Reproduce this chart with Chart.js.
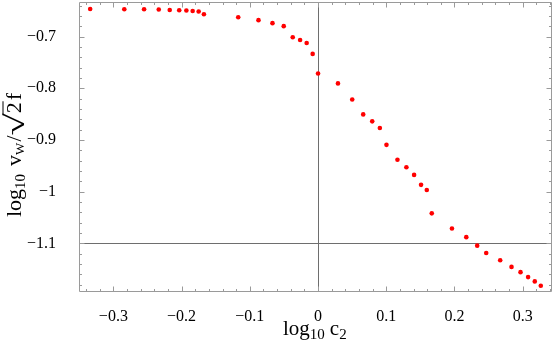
<!DOCTYPE html>
<html>
<head>
<meta charset="utf-8">
<script src="https://cdn.jsdelivr.net/npm/chart.js@4/dist/chart.umd.min.js"></script>
<style>
html,body{margin:0;padding:0;background:#fff;}
canvas{display:block;}
</style>
</head>
<body>
<canvas id="c" width="554" height="342"></canvas>
<script>
const xValues = [-0.334,-0.284,-0.255,-0.2335,-0.2174,-0.2035,-0.193,-0.1838,-0.175,-0.1673,-0.117,-0.0873,-0.0668,-0.0503,-0.0371,-0.0263,-0.0167,-0.0079,0.0,0.0292,0.0501,0.0662,0.0794,0.0906,0.1003,0.1164,0.1295,0.1408,0.151,0.1594,0.1667,0.1963,0.2173,0.2333,0.2465,0.267,0.2836,0.2968,0.3079,0.3177,0.3265];
const yValues = [-0.6467,-0.6472,-0.6472,-0.6478,-0.6486,-0.6492,-0.6497,-0.6505,-0.6517,-0.6568,-0.6626,-0.6683,-0.6741,-0.6799,-0.7015,-0.7067,-0.7125,-0.7336,-0.7714,-0.7906,-0.8218,-0.8506,-0.864,-0.8769,-0.9095,-0.9383,-0.9529,-0.9676,-0.9868,-0.9968,-1.0419,-1.0712,-1.0879,-1.1044,-1.1186,-1.1326,-1.1455,-1.1556,-1.1652,-1.1735,-1.1819];
const xTicks = [-0.3,-0.2,-0.1,0,0.1,0.2,0.3];
const yTicks = [-0.7,-0.8,-0.9,-1,-1.1];
const xMinorTicks = [-0.34,-0.32,-0.28,-0.26,-0.24,-0.22,-0.18,-0.16,-0.14,-0.12,-0.08,-0.06,-0.04,-0.02,0.02,0.04,0.06,0.08,0.12,0.14,0.16,0.18,0.22,0.24,0.26,0.28,0.32,0.34];
const yMinorTicks = [-0.64,-0.66,-0.68,-0.72,-0.74,-0.76,-0.78,-0.82,-0.84,-0.86,-0.88,-0.92,-0.94,-0.96,-0.98,-1.02,-1.04,-1.06,-1.08,-1.12,-1.14,-1.16,-1.18];
const xRange = [-0.3504, 0.3425];
const yRange = [-1.194, -0.6338];

const fmt = v => (v < 0 ? '\u2212' : '') + String(Math.abs(v));
const SERIF = '"Liberation Serif","DejaVu Serif",serif';

function drawRuns(ctx, runs, x, y) {
  let cx = x;
  for (const r of runs) {
    ctx.font = r.size + 'px ' + SERIF;
    const sx = r.sx || 1;
    const w = ctx.measureText(r.t).width * sx;
    ctx.save();
    ctx.translate(cx, y + (r.dy || 0));
    ctx.scale(sx, 1);
    ctx.fillText(r.t, 0, 0);
    ctx.restore();
    if (r.over) {
      ctx.save();
      ctx.lineWidth = 1;
      ctx.beginPath();
      ctx.moveTo(cx - 2, y + r.over);
      ctx.lineTo(cx + w + 1, y + r.over);
      ctx.stroke();
      ctx.restore();
    }
    cx += w + (r.sp || 0);
  }
}

const framePlugin = {
  id: 'frame',
  beforeDatasetsDraw(chart) {
    const ctx = chart.ctx, a = chart.chartArea;
    const xs = chart.scales.x, ys = chart.scales.y;
    ctx.save();
    ctx.strokeStyle = '#6e6e6e';
    ctx.lineWidth = 1;
    const x0 = Math.round(xs.getPixelForValue(0)) + 0.5;
    const y0 = Math.round(ys.getPixelForValue(-1.1)) + 0.5;
    ctx.beginPath();
    ctx.moveTo(x0, a.top); ctx.lineTo(x0, a.bottom);
    ctx.moveTo(a.left, y0); ctx.lineTo(a.right, y0);
    ctx.stroke();
    ctx.strokeStyle = '#9a9a9a';
    const L = Math.round(a.left) + 0.5, R = Math.round(a.right) - 0.5, T = Math.round(a.top) + 0.5, B = Math.round(a.bottom) - 0.5;
    ctx.beginPath();
    ctx.moveTo(L, T); ctx.lineTo(R, T); ctx.lineTo(R, B); ctx.lineTo(L, B); ctx.closePath();
    const xt = (v, len) => {
      const px = Math.round(xs.getPixelForValue(v)) + 0.5;
      ctx.moveTo(px, B); ctx.lineTo(px, B - len);
      ctx.moveTo(px, T); ctx.lineTo(px, T + len);
    };
    const yt = (v, len) => {
      const py = Math.round(ys.getPixelForValue(v)) + 0.5;
      ctx.moveTo(L, py); ctx.lineTo(L + len, py);
      ctx.moveTo(R, py); ctx.lineTo(R - len, py);
    };
    xTicks.forEach(v => xt(v, 5));
    xMinorTicks.forEach(v => xt(v, 2.5));
    yTicks.forEach(v => yt(v, 5));
    yMinorTicks.forEach(v => yt(v, 2.5));
    ctx.stroke();
    ctx.restore();
  },
  afterDraw(chart) {
    const ctx = chart.ctx;
    ctx.save();
    ctx.fillStyle = '#000';
    ctx.strokeStyle = '#000';
    ctx.textBaseline = 'alphabetic';
    ctx.textAlign = 'left';
    drawRuns(ctx, [
      {t: 'log', size: 21},
      {t: '10', size: 15, dy: 4, sp: 5},
      {t: 'c', size: 21},
      {t: '2', size: 15, dy: 4}
    ], 283, 335);
    ctx.translate(21, 217);
    ctx.rotate(-Math.PI / 2);
    drawRuns(ctx, [
      {t: 'log', size: 22},
      {t: '10', size: 15, dy: 4, sp: 8},
      {t: 'v', size: 22},
      {t: 'W', size: 13, dy: 3, sp: 1},
      {t: '/', size: 22, sp: 0},
      {t: '\u221A', size: 27, dy: 3, sx: 1.5},
      {t: '2', size: 22, over: -18, sp: 2},
      {t: 'f', size: 22}
    ], 0, 0);
    ctx.restore();
  }
};

new Chart(document.getElementById('c'), {
  type: 'scatter',
  data: {
    datasets: [{
      data: xValues.map((x, i) => ({x: x, y: yValues[i]})),
      backgroundColor: '#ff0000',
      borderWidth: 0,
      pointRadius: 2.3,
      pointHoverRadius: 2.3
    }]
  },
  options: {
    responsive: false,
    animation: false,
    events: [],
    layout: {padding: {top: 0, right: 1, left: 0, bottom: 0}},
    plugins: {legend: {display: false}, tooltip: {enabled: false}},
    scales: {
      x: {
        type: 'linear', min: xRange[0], max: xRange[1],
        grid: {display: false}, border: {display: false},
        afterBuildTicks: s => { s.ticks = xTicks.map(v => ({value: v})); },
        afterFit: s => { s.height = 50; s.paddingLeft = 0; s.paddingRight = 0; },
        ticks: {callback: v => fmt(v), color: '#000', padding: 7, maxRotation: 0, autoSkip: false,
          font: {family: SERIF, size: 16}}
      },
      y: {
        type: 'linear', min: yRange[0], max: yRange[1],
        grid: {display: false}, border: {display: false},
        afterBuildTicks: s => { s.ticks = yTicks.map(v => ({value: v})); },
        afterFit: s => { s.width = 79; s.paddingTop = 0; s.paddingBottom = 0; },
        ticks: {callback: v => fmt(v), color: '#000', padding: 15, autoSkip: false,
          font: {family: SERIF, size: 16}}
      }
    }
  },
  plugins: [framePlugin]
});
</script>
</body>
</html>
